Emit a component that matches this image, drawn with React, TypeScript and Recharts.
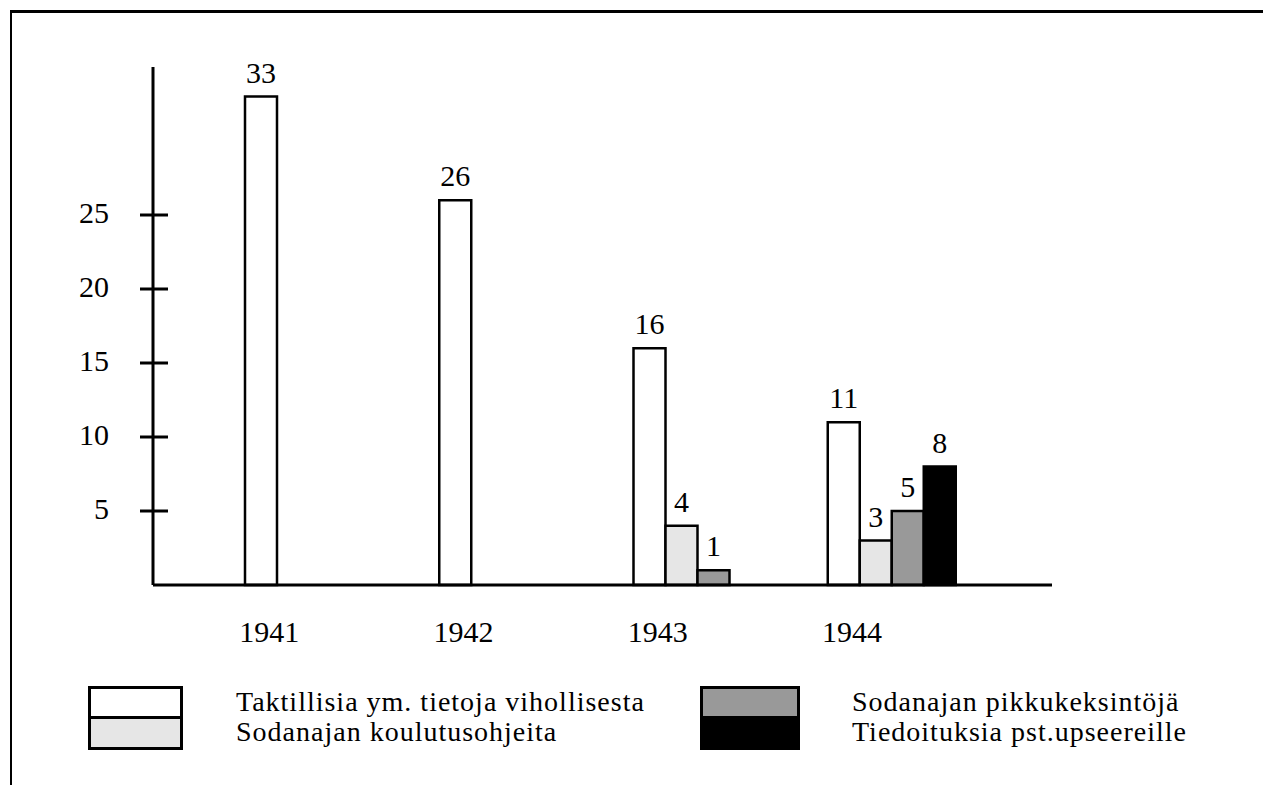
import React from 'react';
import { BarChart, Bar, XAxis, YAxis, LabelList } from 'recharts';

const YEARS = ['1941', '1942', '1943', '1944'];
const TAKTILLISIA = [33, 26, 16, 11];
const KOULUTUS = [null, null, 4, 3];
const PIKKU = [null, null, 1, 5];
const TIEDOITUS = [null, null, null, 8];
const Y_TICKS = [5, 10, 15, 20, 25];

const SERIES = [
  { key: 'tak', name: 'Taktillisia ym. tietoja vihollisesta', fill: '#ffffff' },
  { key: 'kou', name: 'Sodanajan koulutusohjeita', fill: '#e6e6e6' },
  { key: 'pik', name: 'Sodanajan pikkukeksintöjä', fill: '#999999' },
  { key: 'tie', name: 'Tiedoituksia pst.upseereille', fill: '#000000' },
];

const FONT = '"Liberation Serif", "Times New Roman", serif';

const data = YEARS.map((year, i) => ({
  year,
  tak: TAKTILLISIA[i],
  kou: KOULUTUS[i],
  pik: PIKKU[i],
  tie: TIEDOITUS[i],
}));

const YTick = (props: any) => {
  const { x, y, payload } = props;
  const axisX = x + 41;
  return (
    <g>
      <line x1={axisX - 13} x2={axisX + 15} y1={y} y2={y} stroke="#000" strokeWidth={3} />
      <text x={x - 3} y={y} dy={8} textAnchor="end" fontFamily={FONT} fontSize={30} fill="#000">
        {payload.value}
      </text>
    </g>
  );
};

const XTick = (props: any) => {
  const { x, y, payload } = props;
  return (
    <text x={x - 40} y={y + 57} textAnchor="middle" fontFamily={FONT} fontSize={30} fill="#000">
      {payload.value}
    </text>
  );
};

const ValueLabel = (props: any) => {
  const { x, y, width, value } = props;
  if (value === null || value === undefined) return null;
  return (
    <text x={x + width / 2} y={y - 14} textAnchor="middle" fontFamily={FONT} fontSize={30} fill="#000">
      {value}
    </text>
  );
};

const LegendBox = ({ left, top, width, colors }: { left: number; top: number; width: number; colors: string[] }) => (
  <div style={{ position: 'absolute', left, top, width, border: '3px solid #000', boxSizing: 'border-box' }}>
    <div style={{ height: 27, background: colors[0], borderBottom: '3px solid #000' }} />
    <div style={{ height: 28, background: colors[1] }} />
  </div>
);

const LegendText = ({ left, top, lines }: { left: number; top: number; lines: string[] }) => (
  <div style={{ position: 'absolute', left, top, fontFamily: FONT, fontSize: 28, lineHeight: '30px', letterSpacing: 1, color: '#000', whiteSpace: 'nowrap' }}>
    {lines.map(l => <div key={l}>{l}</div>)}
  </div>
);

export default function App() {
  return (
    <div style={{ position: 'absolute', left: 0, top: 0, width: 1263, height: 785, background: '#fff', overflow: 'hidden' }}>
      {/* frame */}
      <div style={{ position: 'absolute', left: 10, top: 10, width: 1253, height: 775, borderTop: '3px solid #000', borderLeft: '2px solid #000' }} />

      <div style={{ position: 'absolute', left: 0, top: 0 }}>
        <BarChart
          width={1263}
          height={680}
          data={data}
          margin={{ top: 67, right: 211, left: 73, bottom: 35 }}
          barSize={32}
          barGap={0}
        >
          <XAxis
            dataKey="year"
            height={60}
            padding={{ left: 59, right: 63 }}
            axisLine={{ stroke: '#000', strokeWidth: 3 }}
            tickLine={false}
            tickSize={0}
            tickMargin={0}
            tick={<XTick />}
          />
          <YAxis
            width={80}
            domain={[0, 35]}
            ticks={Y_TICKS}
            axisLine={{ stroke: '#000', strokeWidth: 3 }}
            tickLine={false}
            tickSize={13}
            tickMargin={28}
            tick={<YTick />}
          />
          {SERIES.map(s => (
            <Bar key={s.key} dataKey={s.key} name={s.name} fill={s.fill} stroke="#000" strokeWidth={2.5} isAnimationActive={false}>
              <LabelList dataKey={s.key} content={<ValueLabel />} />
            </Bar>
          ))}
        </BarChart>
      </div>

      {/* legend */}
      <LegendBox left={88} top={686} width={95} colors={[SERIES[0].fill, SERIES[1].fill]} />
      <LegendText left={236} top={687} lines={[SERIES[0].name, SERIES[1].name]} />
      <LegendBox left={700} top={686} width={100} colors={[SERIES[2].fill, SERIES[3].fill]} />
      <LegendText left={852} top={687} lines={[SERIES[2].name, SERIES[3].name]} />
    </div>
  );
}
